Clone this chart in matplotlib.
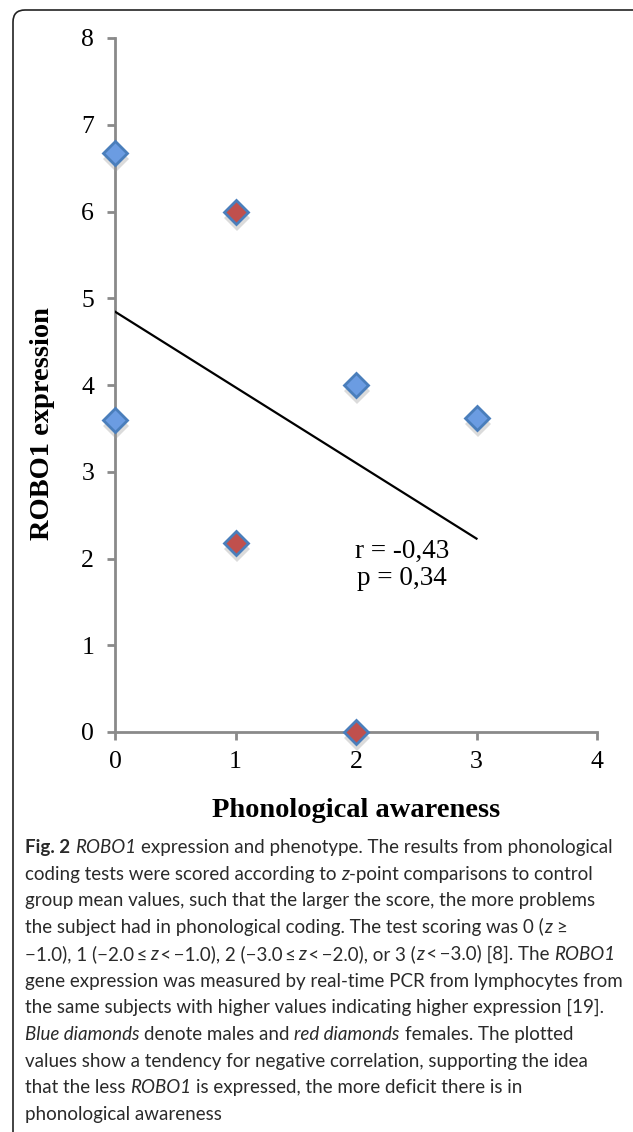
import numpy as np
import matplotlib
matplotlib.use('Agg')
import matplotlib.pyplot as plt
from matplotlib.patches import FancyBboxPatch

# data
x_male = [0, 0, 2, 3]
y_male = [6.67, 3.60, 4.00, 3.62]
x_female = [1, 1, 2]
y_female = [6.00, 2.18, 0.00]
r_text = 'r = -0,43\np = 0,34'
x_ticks = [0, 1, 2, 3, 4]
y_ticks = [0, 1, 2, 3, 4, 5, 6, 7, 8]

TS = '\u2009'  # thin space
# caption, one list of (text, style) runs per line
caption = [
    [('Fig. 2', 'b'), (' ', 'n'), ('ROBO1', 'i'), (' expression and phenotype. The results from phonological', 'n')],
    [('coding tests were scored according to ', 'n'), ('z', 'i'), ('-point comparisons to control', 'n')],
    [('group mean values, such that the larger the score, the more problems', 'n')],
    [('the subject had in phonological coding. The test scoring was 0 (', 'n'), ('z', 'i'), (' \u2265', 'n')],
    [('\u22121.0), 1 (\u22122.0' + TS + '\u2264' + TS, 'n'), ('z', 'i'), (TS + '<' + TS + '\u22121.0), 2 (\u22123.0' + TS + '\u2264' + TS, 'n'), ('z', 'i'),
     (TS + '<' + TS + '\u22122.0), or 3 (', 'n'), ('z', 'i'), (TS + '<' + TS + '\u22123.0) [8]. The ', 'n'), ('ROBO1', 'i')],
    [('gene expression was measured by real-time PCR from lymphocytes from', 'n')],
    [('the same subjects with higher values indicating higher expression [19].', 'n')],
    [('Blue diamonds', 'i'), (' denote males and ', 'n'), ('red diamonds', 'i'), (' females. The plotted', 'n')],
    [('values show a tendency for negative correlation, supporting the idea', 'n')],
    [('that the less ', 'n'), ('ROBO1', 'i'), (' is expressed, the more deficit there is in', 'n')],
    [('phonological awareness', 'n')],
]

W, H = 633, 1132
fig = plt.figure(figsize=(W / 100, H / 100), dpi=100)

# outer frame of the figure panel
frame = FancyBboxPatch((13, -40), 660, H - 10 + 40, boxstyle='round,pad=0,rounding_size=12',
                       transform=None, fill=False, edgecolor='#222222', linewidth=1.2)
fig.patches.append(frame)

ax = fig.add_axes([115 / W, (H - 732) / H, 482 / W, 694 / H])
ax.set_xlim(0, 4)
ax.set_ylim(0, 8)

serif = 'Liberation Serif'
gray = '#8a8a8a'
for s in ['top', 'right']:
    ax.spines[s].set_visible(False)
for s in ['left', 'bottom']:
    ax.spines[s].set_color(gray)
    ax.spines[s].set_linewidth(2)
    ax.spines[s].set_zorder(1)
ax.tick_params(colors=gray, width=2, length=6, labelcolor='black', labelsize=18.5)
ax.tick_params(axis='x', pad=8)
ax.tick_params(axis='y', pad=9)
ax.set_xticks(x_ticks)
ax.set_yticks(y_ticks)
for lab in ax.get_xticklabels() + ax.get_yticklabels():
    lab.set_fontfamily(serif)

# trend line (least squares fit of all points)
xa = np.array(x_male + x_female, dtype=float)
ya = np.array(y_male + y_female, dtype=float)
k, b = np.polyfit(xa, ya, 1)
xl = np.array([xa.min(), xa.max()])
ax.plot(xl, k * xl + b, color='black', linewidth=1.6, zorder=2)

# markers with soft shadow
for xs, ys, fc in [(x_male, y_male, '#6b9ce2'), (x_female, y_female, '#c0504d')]:
    ax.plot(np.array(xs) + 0.012, np.array(ys) - 0.07, 'D', markersize=13, color='#999999',
            alpha=0.35, markeredgewidth=0, zorder=3, clip_on=False)
    ax.plot(xs, ys, 'D', markersize=12, markerfacecolor=fc, markeredgecolor='#4a7ebb',
            markeredgewidth=2, zorder=4, clip_on=False)

ax.text(2.38, 1.93, r_text, ha='center', va='center', fontsize=19.5, family=serif, linespacing=1.1)

ax.set_xlabel('Phonological awareness', family=serif, fontweight='bold', fontsize=20.5)
ax.set_ylabel('ROBO1 expression', family=serif, fontweight='bold', fontsize=20.5)
ax.xaxis.set_label_coords(0.5, -0.095)
ax.yaxis.set_label_coords(-0.125, 0.445)

# caption drawn run by run
cap_font = ['Lato', 'DejaVu Sans']
cap_size = 13.5
fig.canvas.draw()
rend = fig.canvas.get_renderer()


def text_width(s, style):
    t = fig.text(0, 0, s, family=cap_font, fontsize=cap_size,
                 fontstyle='italic' if style == 'i' else 'normal',
                 fontweight='bold' if style == 'b' else 'normal')
    w = t.get_window_extent(rend).width
    t.remove()
    return w


space_w = text_width('a a', 'n') - text_width('aa', 'n')

y0 = 853
dy = 26.7
for i, line in enumerate(caption):
    xp = 25
    yp = H - (y0 + i * dy)
    for s, style in line:
        core = s.strip(' ')
        if not core:
            xp += len(s) * space_w
            continue
        xp += (len(s) - len(s.lstrip(' '))) * space_w
        t = fig.text(xp / W, yp / H, core, family=cap_font, fontsize=cap_size, color='#2a2a2a',
                     fontstyle='italic' if style == 'i' else 'normal',
                     fontweight='bold' if style == 'b' else 'normal', va='baseline')
        xp += t.get_window_extent(rend).width
        xp += (len(s) - len(s.rstrip(' '))) * space_w

fig.savefig('out.png', dpi=100)
